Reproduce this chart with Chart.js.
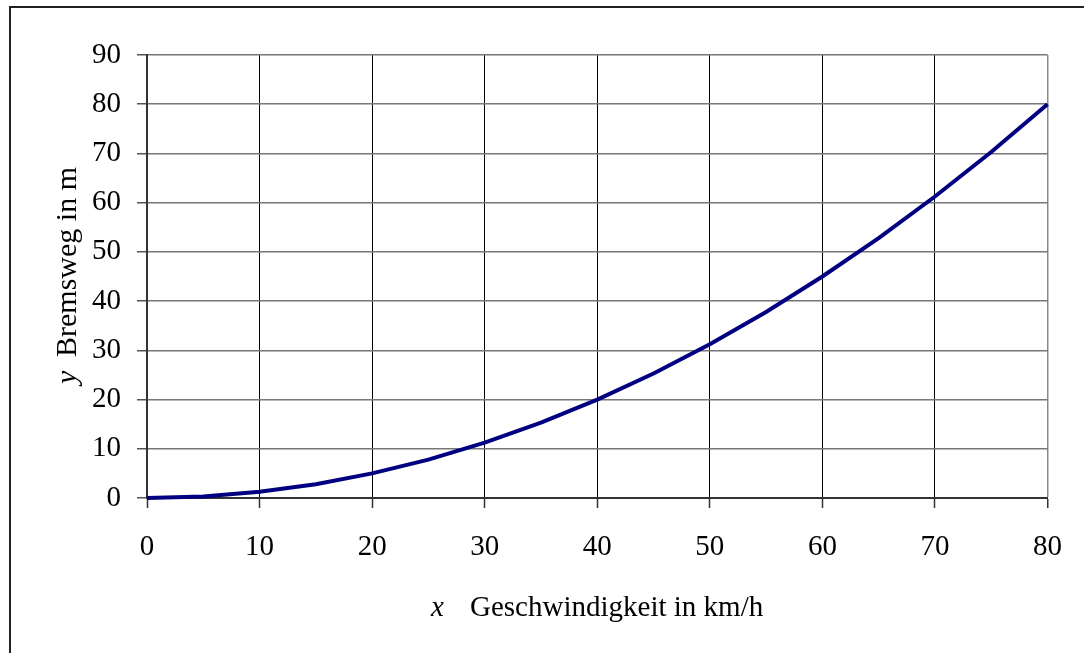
<!DOCTYPE html>
<html>
<head>
<meta charset="utf-8">
<script src="https://cdn.jsdelivr.net/npm/chart.js@4.4.0/dist/chart.umd.min.js"></script>
<style>
  html, body { margin: 0; padding: 0; background: #fff; overflow: hidden; }
  #frame { position: absolute; left: 9px; top: 6px; width: 1100px; height: 700px; border: 2px solid #222; }
  #wrap { position: absolute; left: 0; top: 0; width: 1084px; height: 653px; }
</style>
</head>
<body>
<div id="frame"></div>
<div id="wrap"><canvas id="myChart"></canvas></div>
<script>
// speed in km/h and braking distance in m
const speeds = [0, 5, 10, 15, 20, 25, 30, 35, 40, 45, 50, 55, 60, 65, 70, 75, 80]
const brakingDistance = [0, 0.3, 1.25, 2.8, 5, 7.8, 11.25, 15.3, 20, 25.3, 31.25, 37.8, 45, 52.8, 61.25, 70.3, 80]
const xTicks = [0, 10, 20, 30, 40, 50, 60, 70, 80]
const yTicks = [0, 10, 20, 30, 40, 50, 60, 70, 80, 90]

const serif = "'Liberation Serif', 'Times New Roman', serif"

const points = speeds.map((s, i) => ({ x: s, y: brakingDistance[i] }))

// axis titles with italic variable names
const axisTitles = {
  id: 'axisTitles',
  afterDraw(chart) {
    const ctx = chart.ctx
    ctx.save()
    ctx.fillStyle = '#000'
    ctx.textBaseline = 'alphabetic'
    // x title
    ctx.font = 'italic 29px ' + serif
    ctx.fillText('x', 431, 616)
    ctx.font = '29px ' + serif
    ctx.fillText('Geschwindigkeit in km/h', 470, 616)
    // y title, rotated
    ctx.translate(76, 0)
    ctx.rotate(-Math.PI / 2)
    ctx.font = 'italic 30px ' + serif
    ctx.fillText('y', -384, 0)
    ctx.font = '30px ' + serif
    ctx.fillText('Bremsweg in m', -357, 0)
    ctx.restore()
  }
}

const config = {
  type: 'line',
  data: {
    datasets: [{
      data: points,
      borderColor: '#000080',
      borderWidth: 4,
      pointRadius: 0,
      tension: 0,
      fill: false,
      clip: false
    }]
  },
  options: {
    responsive: false,
    animation: false,
    events: [],
    layout: { padding: { top: 55, right: 31, left: 0, bottom: 0 } },
    plugins: { legend: { display: false }, tooltip: { enabled: false } },
    scales: {
      x: {
        type: 'linear',
        min: 0,
        max: 80,
        afterBuildTicks: (axis) => { axis.ticks = xTicks.map(v => ({ value: v })) },
        afterFit: (axis) => { axis.height = 155 },
        ticks: { color: '#000', font: { family: serif, size: 29 }, padding: 22, maxRotation: 0 },
        grid: {
          color: (c) => c.index === xTicks.length - 1 ? '#888' : '#000',
          lineWidth: (c) => c.index === xTicks.length - 1 ? 1.5 : 1,
          tickColor: '#333',
          tickLength: 10,
          tickWidth: 1.5
        },
        border: { color: '#333', width: 2 }
      },
      y: {
        min: 0,
        max: 90,
        afterBuildTicks: (axis) => { axis.ticks = yTicks.map(v => ({ value: v })) },
        afterFit: (axis) => { axis.width = 147 },
        ticks: { color: '#000', font: { family: serif, size: 29 }, padding: 16 },
        grid: {
          color: '#777',
          lineWidth: 1.5,
          tickColor: '#555',
          tickLength: 10,
          tickWidth: 1.5
        },
        border: { color: '#333', width: 2 }
      }
    }
  },
  plugins: [axisTitles]
}

const canvas = document.getElementById('myChart')
canvas.width = 1084
canvas.height = 653
new Chart(canvas, config)
</script>
</body>
</html>
